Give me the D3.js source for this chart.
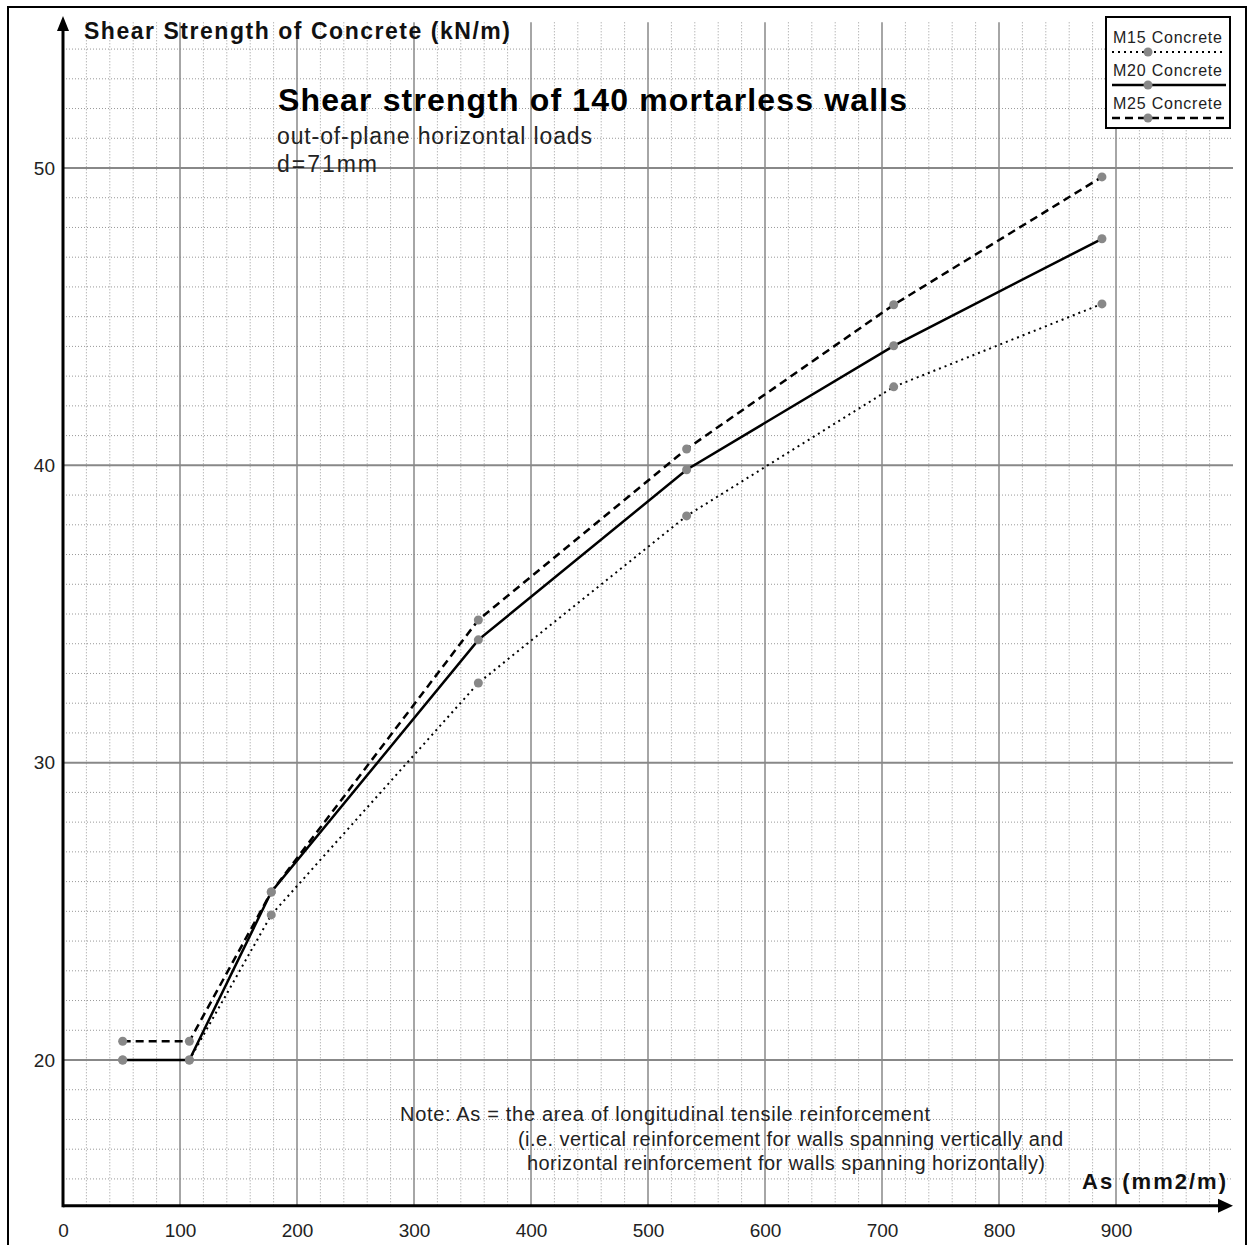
<!DOCTYPE html>
<html lang="en">
<head>
<meta charset="utf-8" />
<title>Shear strength of 140 mortarless walls</title>
<script src="https://d3js.org/d3.v7.min.js"></script>
<style>
  body { margin: 0; background: #fff; font-family: "Liberation Sans", Arial, sans-serif; }
  .tick text { fill: #222; font-size: 19px; font-family: "Liberation Sans", Arial, sans-serif; }
</style>
</head>
<body>
<svg width="1249" height="1245"></svg>
<script>
// data
const asValues = [51, 108, 178, 355, 533, 710, 888];
const m15 = [20.0, 20.0, 24.88, 32.68, 38.30, 42.64, 45.43];
const m20 = [20.0, 20.0, 25.65, 34.13, 39.85, 44.02, 47.62];
const m25 = [20.63, 20.63, 25.65, 34.80, 40.55, 45.40, 49.70];
const xTicks = [0, 100, 200, 300, 400, 500, 600, 700, 800, 900];
const yTicks = [20, 30, 40, 50];
const seriesNames = ["M15 Concrete", "M20 Concrete", "M25 Concrete"];

const svg = d3.select("svg");

const x = d3.scaleLinear().domain([0, 1000]).range([63, 1233]);
const y = d3.scaleLinear().domain([20, 50]).range([1060, 168]);
const yBottom = 15.1, yTop = 54.9;

// outer frame
svg.append("rect")
  .attr("x", 8).attr("y", 7).attr("width", 1238).attr("height", 1260)
  .attr("fill", "none").attr("stroke", "#000").attr("stroke-width", 2);

// grid
const grid = svg.append("g");
const minorX = d3.range(0, 1000, 20).filter(v => v % 100 !== 0);
const minorY = d3.range(16, 55, 1).filter(v => v % 10 !== 0);

grid.selectAll(".mx").data(minorX).join("line")
  .attr("x1", d => x(d)).attr("x2", d => x(d))
  .attr("y1", y(yTop)).attr("y2", y(yBottom))
  .attr("stroke", "#999").attr("stroke-width", 1).attr("stroke-dasharray", "1,2");

grid.selectAll(".my").data(minorY).join("line")
  .attr("x1", x(0)).attr("x2", x(1000))
  .attr("y1", d => y(d)).attr("y2", d => y(d))
  .attr("stroke", "#999").attr("stroke-width", 1).attr("stroke-dasharray", "1,2");

grid.selectAll(".Mx").data(xTicks.slice(1)).join("line")
  .attr("x1", d => x(d)).attr("x2", d => x(d))
  .attr("y1", y(yTop)).attr("y2", y(yBottom))
  .attr("stroke", "#888").attr("stroke-width", 1.5);

grid.selectAll(".My").data(yTicks).join("line")
  .attr("x1", x(0)).attr("x2", x(1000))
  .attr("y1", d => y(d)).attr("y2", d => y(d))
  .attr("stroke", "#888").attr("stroke-width", 2);

// series
const styles = [
  { vals: m15, width: 2, dash: "2,4" },
  { vals: m20, width: 2.5, dash: null },
  { vals: m25, width: 2.5, dash: "8,5" }
];

const line = d3.line().x(d => x(d[0])).y(d => y(d[1]));

styles.forEach(s => {
  const pts = asValues.map((a, i) => [a, s.vals[i]]);
  svg.append("path").datum(pts)
    .attr("d", line)
    .attr("fill", "none").attr("stroke", "#000")
    .attr("stroke-width", s.width)
    .attr("stroke-dasharray", s.dash);
});

styles.forEach(s => {
  svg.append("g").selectAll("circle")
    .data(asValues.map((a, i) => [a, s.vals[i]]))
    .join("circle")
    .attr("cx", d => x(d[0])).attr("cy", d => y(d[1]))
    .attr("r", 4.5).attr("fill", "#888");
});

// axes
const axisY = y(yBottom);
svg.append("g")
  .attr("transform", `translate(0,${axisY + 18})`)
  .call(d3.axisBottom(x).tickValues(xTicks).tickSize(0).tickPadding(0))
  .call(g => g.select(".domain").remove());

svg.append("g")
  .attr("transform", `translate(${x(0) - 8},0)`)
  .call(d3.axisLeft(y).tickValues(yTicks).tickSize(0).tickPadding(0))
  .call(g => g.select(".domain").remove());

svg.append("line")
  .attr("x1", x(0)).attr("x2", 1222).attr("y1", axisY).attr("y2", axisY)
  .attr("stroke", "#000").attr("stroke-width", 3);
svg.append("path")
  .attr("d", `M1233,${axisY} L1218,${axisY - 7} L1218,${axisY + 7} Z`).attr("fill", "#000");

svg.append("line")
  .attr("x1", x(0)).attr("x2", x(0)).attr("y1", axisY + 1.5).attr("y2", 28)
  .attr("stroke", "#000").attr("stroke-width", 3);
svg.append("path")
  .attr("d", `M${x(0)},16 L${x(0) - 6},31 L${x(0) + 6},31 Z`).attr("fill", "#000");

// texts
function fitText(t, len) {
  t.attr("textLength", len).attr("lengthAdjust", "spacing");
}

svg.append("text").attr("x", 84).attr("y", 39)
  .attr("font-size", 23).attr("font-weight", "bold").attr("fill", "#111")
  .text("Shear Strength of Concrete (kN/m)").call(fitText, 426);

svg.append("text").attr("x", 1082).attr("y", 1189)
  .attr("font-size", 22).attr("font-weight", "bold").attr("fill", "#111")
  .text("As (mm2/m)").call(fitText, 144);

svg.append("text").attr("x", 278).attr("y", 111)
  .attr("font-size", 32).attr("font-weight", "bold").attr("fill", "#000")
  .text("Shear strength of 140 mortarless walls").call(fitText, 629);

svg.append("text").attr("x", 277).attr("y", 144)
  .attr("font-size", 23).attr("fill", "#222")
  .text("out-of-plane horizontal loads").call(fitText, 315);

svg.append("text").attr("x", 277).attr("y", 172)
  .attr("font-size", 23).attr("fill", "#222")
  .text("d=71mm").call(fitText, 100);

const notes = [
  { t: "Note:  As = the area of longitudinal tensile reinforcement", x: 400, y: 1121, w: 530 },
  { t: "(i.e. vertical reinforcement for walls spanning vertically and", x: 518, y: 1146, w: 545 },
  { t: "horizontal reinforcement for walls spanning horizontally)", x: 527, y: 1170, w: 518 }
];
notes.forEach(n => {
  svg.append("text").attr("x", n.x).attr("y", n.y)
    .attr("font-size", 20).attr("fill", "#222")
    .text(n.t).call(fitText, n.w);
});

// legend
const lg = svg.append("g");
lg.append("rect").attr("x", 1106).attr("y", 17).attr("width", 124).attr("height", 111)
  .attr("fill", "#fff").attr("stroke", "#000").attr("stroke-width", 2);
seriesNames.forEach((name, i) => {
  const yy = 43 + i * 33;
  lg.append("text").attr("x", 1113).attr("y", yy)
    .attr("font-size", 16).attr("fill", "#222").text(name).call(fitText, 109);
  lg.append("line").attr("x1", 1112).attr("x2", 1226).attr("y1", yy + 9).attr("y2", yy + 9)
    .attr("stroke", "#000").attr("stroke-width", styles[i].width)
    .attr("stroke-dasharray", styles[i].dash);
  lg.append("circle").attr("cx", 1148).attr("cy", yy + 9).attr("r", 4.5).attr("fill", "#888");
});
</script>
</body>
</html>
